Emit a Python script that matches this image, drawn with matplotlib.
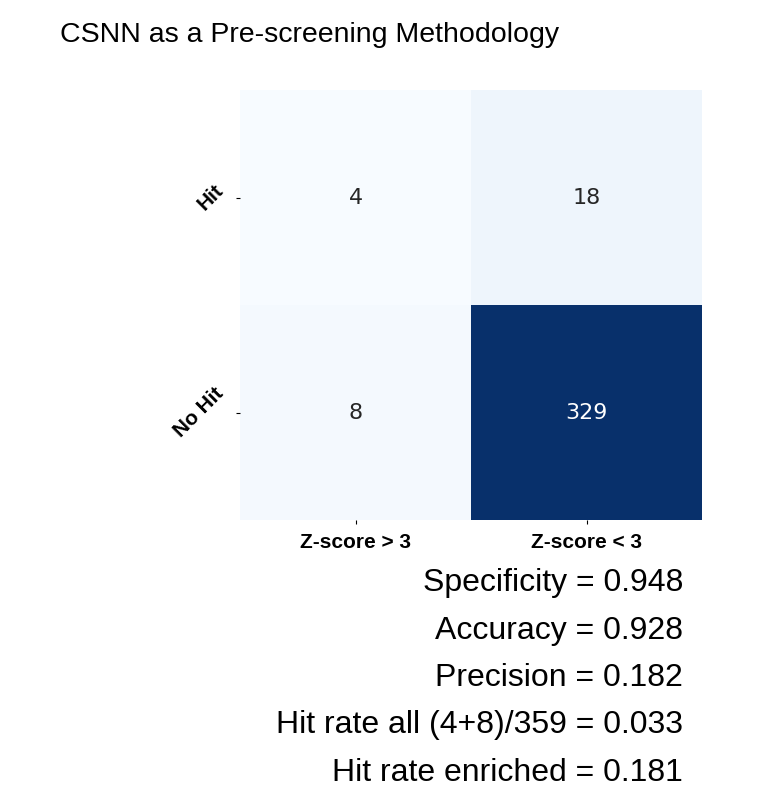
import numpy as np
import matplotlib.pyplot as plt

# confusion matrix values
row_labels = ['Hit', 'No Hit']
col_labels = ['Z-score > 3', 'Z-score < 3']
counts = [[4, 18],
          [8, 329]]
stats = ['Specificity = 0.948',
         'Accuracy = 0.928',
         'Precision = 0.182',
         'Hit rate all (4+8)/359 = 0.033',
         'Hit rate enriched = 0.181']

fig = plt.figure(figsize=(7.69, 7.86), dpi=100, facecolor='w')
ax = fig.add_axes([240/769, 1-520/786, 462/769, 430/786])
mat = np.array(counts)
ax.imshow(mat, cmap='Blues', vmin=mat.min(), vmax=mat.max(), aspect='auto')
for i in range(mat.shape[0]):
    for j in range(mat.shape[1]):
        col = 'white' if mat[i, j] > mat.max() / 2 else '#262626'
        ax.text(j, i, str(mat[i, j]), ha='center', va='center', fontsize=16, color=col)
ax.set_xticks(range(2))
ax.set_xticklabels(col_labels, fontsize=15, fontweight='bold', family='Liberation Sans')
ax.set_yticks(range(2))
ax.set_yticklabels(row_labels, fontsize=15, fontweight='bold', family='Liberation Sans',
                   rotation=45, va='center')
for s in ax.spines.values():
    s.set_visible(False)
ax.tick_params(length=3, pad=6)

fig.text(60/769, 1-35/786, 'CSNN as a Pre-screening Methodology', fontsize=20.5,
         va='center', ha='left', family='Liberation Sans')
for k, line in enumerate(stats):
    fig.text(683/769, 1-(583 + 47.5*k)/786, line, fontsize=23, ha='right', va='center',
             family='Liberation Sans')

plt.savefig('out.png', dpi=100)
